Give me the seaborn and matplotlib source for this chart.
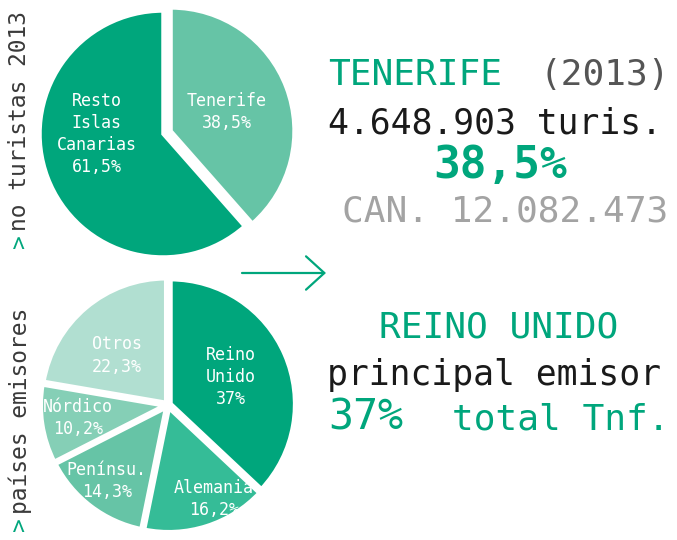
import numpy as np
import matplotlib
matplotlib.use("Agg")
import matplotlib.pyplot as plt
import seaborn as sns

top_labels = ["Tenerife", "Resto\nIslas\nCanarias"]
top_values = [38.5, 61.5]
bottom_labels = ["Reino\nUnido", "Alemania", "Penínsu.", "Nórdico", "Otros"]
bottom_values = [37.0, 16.2, 14.3, 10.2, 22.3]

GREEN = "#00a67c"
top_colors = ["#66c4a6", GREEN]
bottom_colors = [GREEN, "#35bc97", "#66c4a6", "#85cfb6", "#b1dfd1"]

sns.set_theme(style="white")
plt.rcParams["font.family"] = ["DejaVu Sans Mono", "DejaVu Sans"]

W, H = 677, 540
fig = plt.figure(figsize=(W / 100, H / 100), dpi=100)


def fx(x):
    return x / W


def fy(y):
    return 1 - y / H


def pct(v):
    s = f"{v:.1f}".replace(".", ",")
    if s.endswith(",0"):
        s = s[:-2]
    return s + "%"


def pie_axes(cx, cy, r, pad):
    # axes placed so one data unit == r pixels
    half = r * pad
    ax = fig.add_axes([fx(cx - half), fy(cy + half), 2 * half / W, 2 * half / H])
    return ax


def draw_pie(ax, values, labels, colors, explode, lw, label_pos, pad):
    wedges, _ = ax.pie(values, colors=colors, startangle=90, counterclock=False,
                       explode=explode,
                       wedgeprops=dict(edgecolor="white", linewidth=lw))
    # pie() resets the limits, so set them afterwards
    ax.set_xlim(-pad, pad)
    ax.set_ylim(-pad, pad)
    ax.set_aspect("equal")
    ax.axis("off")
    for w in wedges:
        w.set_clip_on(False)
    for lab, v, (rr, ang) in zip(labels, values, label_pos):
        a = np.deg2rad(ang)
        ax.text(rr * np.cos(a), rr * np.sin(a), f"{lab}\n{pct(v)}",
                ha="center", va="center", color="white", fontsize=12,
                linespacing=1.3)


# top pie: Tenerife vs rest of islands
ax1 = pie_axes(163, 134, 123, 1.15)
draw_pie(ax1, top_values, top_labels, top_colors, [0.07, 0], 2.5,
         [(0.55, 19), (0.54, 180)], 1.15)

# bottom pie: source countries
ax2 = pie_axes(168, 405, 125, 1.15)
draw_pie(ax2, bottom_values, bottom_labels, bottom_colors, [0.02] * 5, 3.5,
         [(0.55, 24), (0.84, -64), (0.78, -129), (0.73, -172), (0.57, 136)], 1.15)

# vertical side titles
DARK = "#3a3a3a"
fig.text(fx(20), fy(248), ">", rotation=90, ha="center", va="bottom",
         color=GREEN, fontsize=16.5)
fig.text(fx(20), fy(231), "no turistas 2013", rotation=90, ha="center",
         va="bottom", color=DARK, fontsize=16.5)
fig.text(fx(20), fy(531), ">", rotation=90, ha="center", va="bottom",
         color=GREEN, fontsize=16.5)
fig.text(fx(20), fy(514), "países emisores", rotation=90, ha="center",
         va="bottom", color=DARK, fontsize=16.5)

# right hand headline block
fig.text(fx(328), fy(75), "TENERIFE", ha="left", va="center", color=GREEN,
         fontsize=26)
fig.text(fx(670), fy(75), "(2013)", ha="right", va="center", color="#555555",
         fontsize=26)
fig.text(fx(328), fy(123), "4.648.903 turis.", ha="left", va="center",
         color="#1a1a1a", fontsize=25)
fig.text(fx(500), fy(166), pct(top_values[0]), ha="center", va="center",
         color=GREEN, fontsize=32, fontweight="bold")
fig.text(fx(668), fy(212), "CAN. 12.082.473", ha="right", va="center",
         color="#a3a3a3", fontsize=26)

plt.annotate("", xy=(326, H - 273), xytext=(242, H - 273),
             xycoords="figure pixels", textcoords="figure pixels",
             arrowprops=dict(arrowstyle="->,head_length=1.1,head_width=1.0",
                             color=GREEN, lw=1.6, shrinkA=0, shrinkB=0))

fig.text(fx(499), fy(327), "REINO UNIDO", ha="center", va="center",
         color=GREEN, fontsize=26)
fig.text(fx(327), fy(375), "principal emisor", ha="left", va="center",
         color="#1a1a1a", fontsize=25)
fig.text(fx(328), fy(418), pct(bottom_values[0]), ha="left", va="center",
         color=GREEN, fontsize=30)
fig.text(fx(669), fy(420), "total Tnf.", ha="right", va="center",
         color=GREEN, fontsize=26)

fig.savefig("out.png", dpi=100, facecolor="white")
